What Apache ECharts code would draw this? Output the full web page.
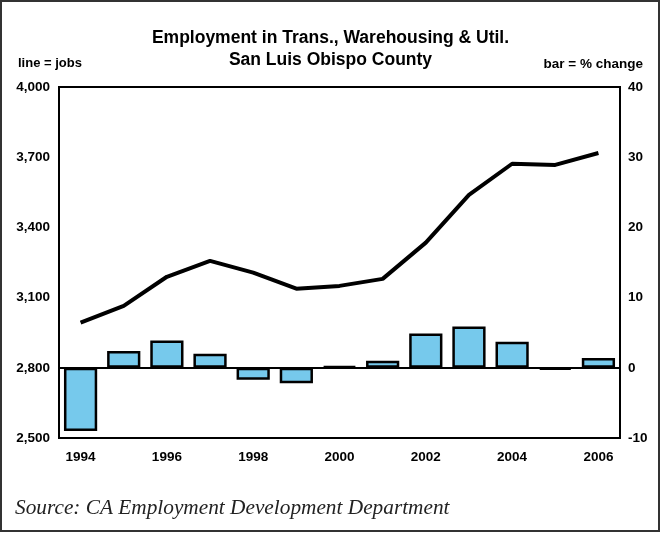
<!DOCTYPE html>
<html><head><meta charset="utf-8">
<script src="https://cdn.jsdelivr.net/npm/echarts@6/dist/echarts.min.js"></script>
<style>html,body{margin:0;padding:0;background:#fff}#c{width:661px;height:533px}</style>
</head><body><div id="c"></div>
<script>
const years = ['1994','1995','1996','1997','1998','1999','2000','2001','2002','2003','2004','2005','2006'];
const jobs = [2993, 3065, 3189, 3257, 3207, 3138, 3150, 3180, 3335, 3539, 3672, 3667, 3718];
const pctChange = [-9.0, 2.4, 3.9, 2.0, -1.7, -2.2, 0.2, 1.0, 4.9, 5.9, 3.7, -0.3, 1.4];
const jobTicks = {min: 2500, max: 4000, step: 300};
const pctTicks = {min: -10, max: 40, step: 10};

const chart = echarts.init(document.getElementById('c'), null, {renderer: 'canvas'});
const F = '"Liberation Sans", Arial, sans-serif';
chart.setOption({
  animation: false,
  backgroundColor: '#fff',
  title: [
    {text: 'Employment in Trans., Warehousing & Util.', left: 'center', top: 24,
     textStyle: {fontFamily: F, fontWeight: 'bold', fontSize: 17.5, color: '#000'}},
    {text: 'San Luis Obispo County', left: 'center', top: 46,
     textStyle: {fontFamily: F, fontWeight: 'bold', fontSize: 17.5, color: '#000'}},
    {text: 'line = jobs', left: 13, top: 52,
     textStyle: {fontFamily: F, fontWeight: 'bold', fontSize: 13, color: '#000'}},
    {text: 'bar = % change', right: 13, top: 52,
     textStyle: {fontFamily: F, fontWeight: 'bold', fontSize: 13.5, color: '#000'}},
    {text: 'Source: CA Employment Development Department', left: 10, top: 493,
     textStyle: {fontFamily: '"Liberation Serif", "Times New Roman", serif', fontStyle: 'italic', fontWeight: 'normal', fontSize: 21.3, color: '#222'}}
  ],
  graphic: [{type: 'rect', shape: {x: 1, y: 1, width: 658, height: 530},
    style: {fill: 'none', stroke: '#333', lineWidth: 2}, silent: true}],
  grid: {left: 59, right: 41, top: 87, bottom: 95, show: true, borderColor: '#000', borderWidth: 2, containLabel: false},
  xAxis: {
    type: 'category', data: years,
    axisLine: {show: true, onZero: false, lineStyle: {color: '#000', width: 2}},
    axisTick: {show: false},
    axisLabel: {interval: 1, margin: 12, fontFamily: F, fontWeight: 'bold', fontSize: 13.5, color: '#000'}
  },
  yAxis: [
    {type: 'value', min: jobTicks.min, max: jobTicks.max, interval: jobTicks.step,
     axisLine: {show: true, lineStyle: {color: '#000', width: 2}}, axisTick: {show: false},
     splitLine: {show: false},
     axisLabel: {margin: 9, fontFamily: F, fontWeight: 'bold', fontSize: 13.5, color: '#000',
       formatter: v => v.toLocaleString('en-US')}},
    {type: 'value', min: pctTicks.min, max: pctTicks.max, interval: pctTicks.step, position: 'right',
     axisLine: {show: true, lineStyle: {color: '#000', width: 2}}, axisTick: {show: false},
     splitLine: {show: false},
     axisLabel: {margin: 8, fontFamily: F, fontWeight: 'bold', fontSize: 13.5, color: '#000'}}
  ],
  series: [
    {type: 'bar', yAxisIndex: 1, data: pctChange, barWidth: '77%',
     itemStyle: {color: '#76c9ec', borderColor: '#000', borderWidth: 2.5},
     markLine: {silent: true, symbol: 'none', label: {show: false},
       lineStyle: {color: '#000', width: 2, type: 'solid'}, data: [{yAxis: 0}]},
     z: 2},
    {type: 'line', yAxisIndex: 0, data: jobs, showSymbol: false, symbol: 'none',
     lineStyle: {color: '#000', width: 4}, z: 3}
  ]
});
</script></body></html>
